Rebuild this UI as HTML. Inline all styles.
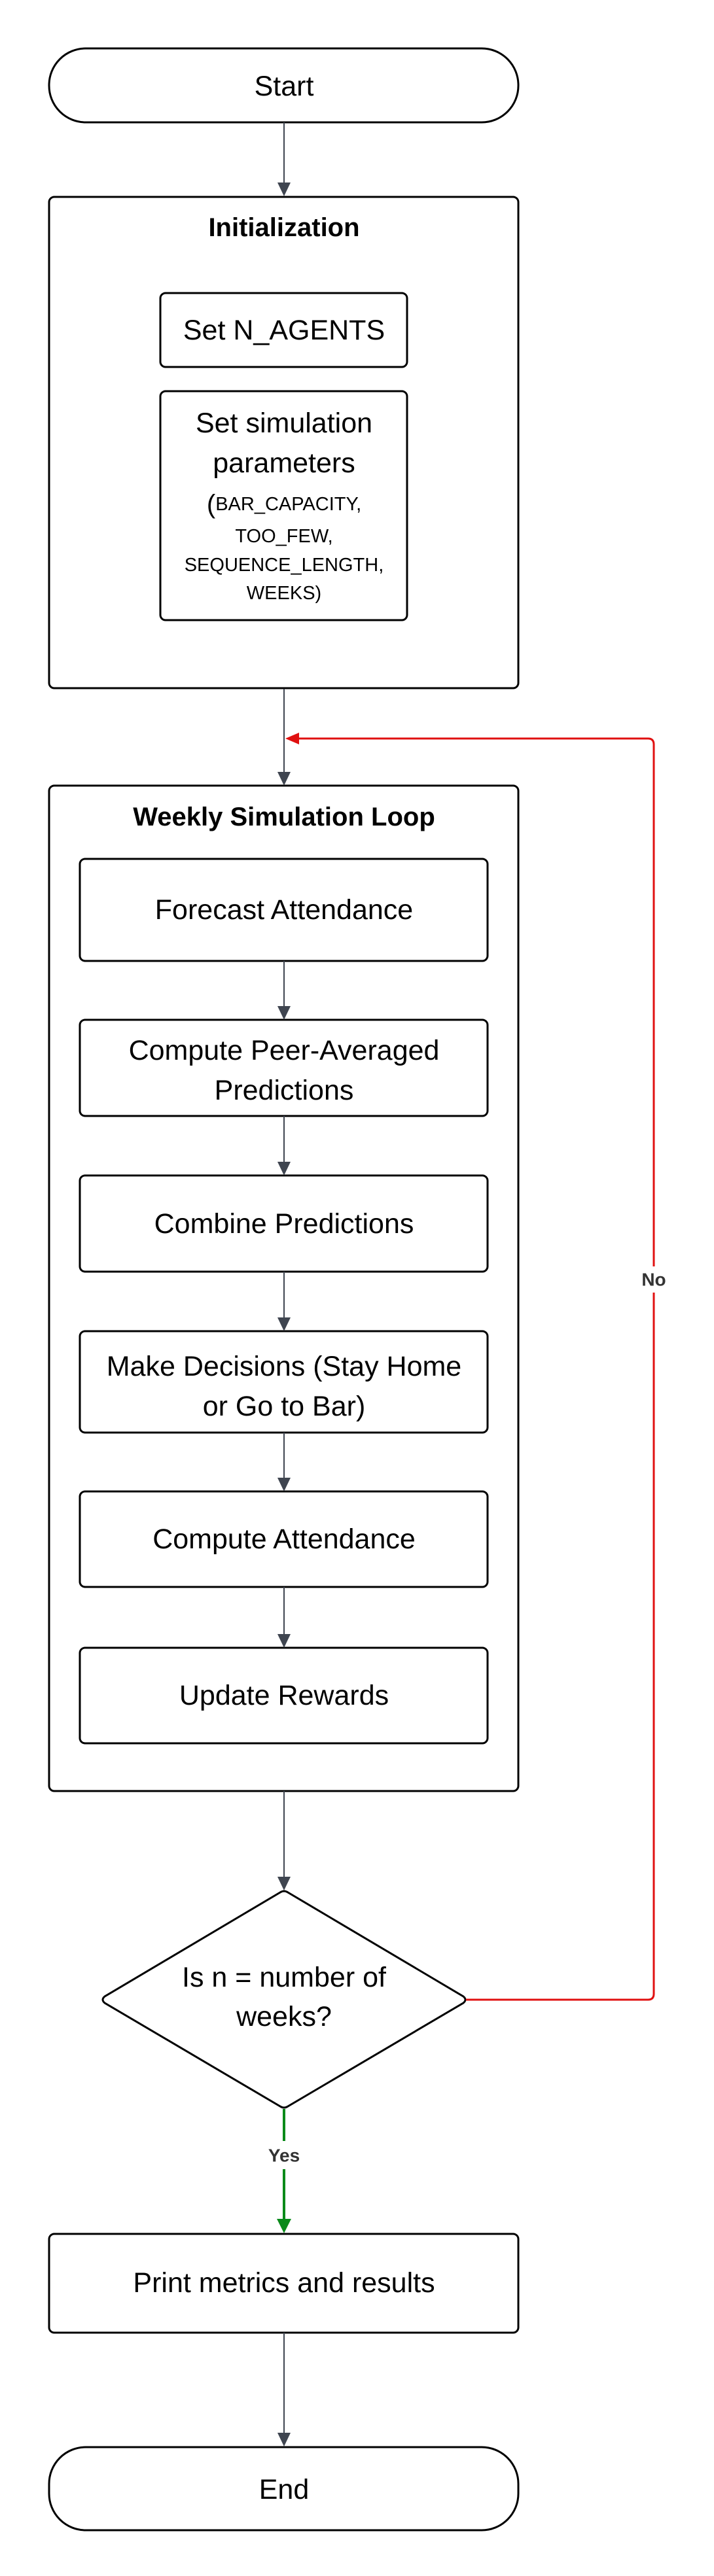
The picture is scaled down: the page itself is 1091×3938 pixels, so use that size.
<!DOCTYPE html>
<html><head><meta charset="utf-8"><style>
html,body{margin:0;padding:0;background:#fff;}
svg{display:block;}
text{font-family:"Liberation Sans",Arial,sans-serif;fill:#000;}
</style></head><body>
<svg width="1091" height="3938" viewBox="0 0 1091 3938" xmlns="http://www.w3.org/2000/svg">
<defs>
<marker id="ag" markerWidth="10" markerHeight="14" refX="10" refY="7" orient="auto" markerUnits="userSpaceOnUse" viewBox="0 0 10 14"></marker>
</defs>
<g fill="none" stroke="#000" stroke-width="3">
<rect x="75" y="74" width="717" height="113" rx="56"/>
<rect x="75" y="301" width="717" height="751" rx="8"/>
<rect x="245" y="448" width="377" height="113" rx="8"/>
<rect x="245" y="598" width="377" height="350" rx="8"/>
<rect x="75" y="1201" width="717" height="1537" rx="8"/>
<rect x="122" y="1313" width="623" height="156" rx="8"/>
<rect x="122" y="1559" width="623" height="147" rx="8"/>
<rect x="122" y="1797" width="623" height="147" rx="8"/>
<rect x="122" y="2035" width="623" height="155" rx="8"/>
<rect x="122" y="2280" width="623" height="146" rx="8"/>
<rect x="122" y="2519" width="623" height="146" rx="8"/>
<path d="M428 2893 Q434 2889 440 2893 L708 3052 Q714 3057 708 3062 L440 3220 Q434 3224 428 3220 L160 3062 Q154 3057 160 3052 Z"/>
<rect x="75" y="3415" width="717" height="151" rx="8"/>
<rect x="75" y="3741" width="717" height="127" rx="56"/>
</g>
<g stroke="#3f4550" stroke-width="2" fill="none">
<path d="M434 187V280"/><path d="M434 1053V1182"/>
<path d="M434 1469V1540"/><path d="M434 1706V1778"/><path d="M434 1944V2016"/>
<path d="M434 2190V2261"/><path d="M434 2426V2500"/><path d="M434 2738V2871"/>
<path d="M434 3566V3720"/>
</g>
<g fill="#3f4550">
<path d="M424 279H444L434 300Z"/><path d="M424 1180H444L434 1201Z"/>
<path d="M424 1538H444L434 1559Z"/><path d="M424 1776H444L434 1797Z"/><path d="M424 2014H444L434 2035Z"/>
<path d="M424 2259H444L434 2280Z"/><path d="M424 2498H444L434 2519Z"/><path d="M424 2869H444L434 2890Z"/>
<path d="M424 3719H444L434 3740Z"/>
</g>
<path d="M712 3057H990Q999 3057 999 3048V1138Q999 1129 990 1129H455" fill="none" stroke="#e01010" stroke-width="3"/>
<path d="M457 1120V1138L436 1129Z" fill="#e01010"/>
<path d="M434 3224V3273M434 3316V3395" fill="none" stroke="#0a8a1a" stroke-width="4"/>
<path d="M423 3392H445L434 3414Z" fill="#0a8a1a"/>
<g font-size="43" text-anchor="middle" dominant-baseline="central">
<text x="434" y="132">Start</text>
<text x="434" y="348" font-weight="bold" font-size="40">Initialization</text>
<text x="434" y="505">Set N_AGENTS</text>
<text x="434" y="647">Set simulation</text>
<text x="434" y="708">parameters</text>
<text x="434" y="771" font-size="29"><tspan font-size="40">(</tspan>BAR_CAPACITY,</text>
<text x="434" y="820" font-size="29">TOO_FEW,</text>
<text x="434" y="864" font-size="29">SEQUENCE_LENGTH,</text>
<text x="434" y="907" font-size="29">WEEKS)</text>
<text x="434" y="1249" font-weight="bold" font-size="40">Weekly Simulation Loop</text>
<text x="434" y="1391">Forecast Attendance</text>
<text x="434" y="1606">Compute Peer-Averaged</text>
<text x="434" y="1667">Predictions</text>
<text x="434" y="1871">Combine Predictions</text>
<text x="434" y="2089">Make Decisions (Stay Home</text>
<text x="434" y="2150">or Go to Bar)</text>
<text x="434" y="2353">Compute Attendance</text>
<text x="434" y="2592">Update Rewards</text>
<text x="434" y="3023">Is n = number of</text>
<text x="434" y="3083">weeks?</text>
<text x="434" y="3490">Print metrics and results</text>
<text x="434" y="3806">End</text>
</g>
<g font-size="28" font-weight="bold" text-anchor="middle" dominant-baseline="central" style="fill:#333">
<rect x="975" y="1936" width="48" height="40" fill="#fff"/>
<text x="999" y="1956" style="fill:#333">No</text>
<text x="434" y="3295" style="fill:#333">Yes</text>
</g>
</svg>
</body></html>
